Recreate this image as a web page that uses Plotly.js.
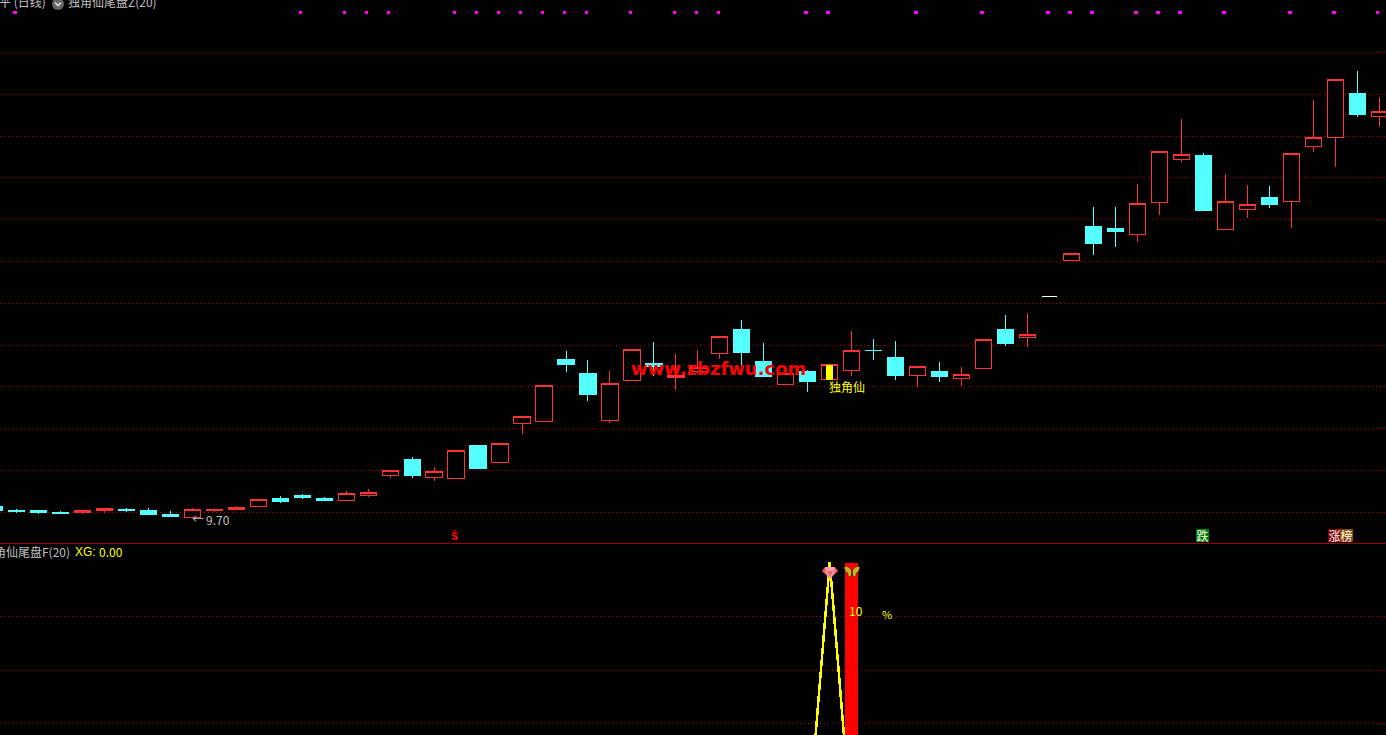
<!DOCTYPE html>
<html>
<head>
<meta charset="utf-8">
<script src="https://cdn.plot.ly/plotly-3.0.1.min.js"></script>
<style>html,body{margin:0;padding:0;background:#000;overflow:hidden}#chart{width:1386px;height:735px}.main-svg path{shape-rendering:crispEdges}</style>
</head>
<body>
<div id="chart"></div>
<script>
// Daily candles, index -1 .. 62
const dayIndex = [-1,0,1,2,3,4,5,6,7,8,9,10,11,12,13,14,15,16,17,18,19,20,21,22,23,24,25,26,27,28,29,30,31,32,33,34,35,36,37,38,39,40,41,42,43,44,45,46,47,48,49,50,51,52,53,54,55,56,57,58,59,60,61,62];
const openPx = [10.29,10.10,10.10,10.00,10.00,10.10,10.19,10.10,9.95,9.78,10.11,10.16,10.30,10.67,10.86,10.67,10.59,10.83,11.78,12.58,11.69,11.64,13.21,12.41,14.27,14.37,17.32,16.65,14.42,16.33,17.13,16.47,16.79,17.62,18.76,17.23,16.14,16.75,16.38,16.81,17.79,17.42,16.56,16.79,16.43,16.90,18.76,18.41,20.37,22.07,23.69,23.59,23.33,24.85,26.91,27.08,23.56,24.51,25.07,24.90,27.53,27.96,30.05,28.96];
const highPx = [10.29,10.19,10.12,10.10,10.14,10.22,10.24,10.24,10.10,10.24,10.19,10.33,10.66,10.81,10.91,10.77,11.05,11.15,12.04,12.68,12.20,13.00,13.21,13.34,14.63,16.11,17.75,17.32,16.79,17.83,18.18,17.61,17.80,18.46,19.24,18.13,16.84,16.84,17.08,18.71,18.33,18.23,16.99,17.23,16.99,18.31,19.47,19.57,20.37,22.43,24.64,24.64,25.74,27.31,28.85,27.23,26.22,25.69,25.65,27.21,29.76,30.75,31.15,29.91];
const lowPx = [10.10,10.00,9.95,9.95,9.95,10.00,10.05,9.95,9.81,9.76,10.05,10.16,10.30,10.48,10.67,10.57,10.59,10.77,11.69,11.67,11.55,11.64,12.11,12.41,13.78,14.37,16.75,15.36,14.31,16.33,16.56,15.89,16.65,17.37,17.08,16.51,16.14,15.79,16.38,16.56,17.32,16.36,16.03,16.27,16.08,16.90,17.99,17.94,20.37,22.07,22.35,22.73,22.97,24.26,26.81,24.45,23.56,24.13,24.59,23.64,27.27,26.56,28.95,28.47];
const closePx = [10.10,10.05,10.00,9.98,10.14,10.22,10.10,9.95,9.81,10.17,10.19,10.27,10.66,10.53,10.72,10.62,10.94,10.96,12.04,11.77,12.00,13.00,12.11,13.34,14.63,16.11,17.08,15.69,16.21,17.83,17.03,16.60,16.94,18.46,17.66,16.51,16.65,16.27,17.08,17.79,17.75,16.56,16.99,16.51,16.64,18.31,18.09,18.55,20.37,22.43,22.87,23.45,24.82,27.31,27.16,24.45,24.92,24.77,24.74,27.21,27.98,30.75,29.04,29.22];

// Flat one-price day drawn white
const flatDay = [47];
const flatPrice = [20.36];

// Signal candle fill
const signalDay = [37, 37];
const signalPrice = [16.38, 17.08];

// Top row of magenta marks
const markDays = [0,13,15,16,17,20,21,22,23,24,25,26,28,30,31,32,36,37,41,44,47,48,49,51,52,53,55,58,60,62];
const markLevel = 33.95;

// Grid levels
const priceGrid = [10.03,12.03,14.03,16.03,18.03,20.03,22.03,24.03,26.03,28.03,30.03,32.03];
const xgGrid = [0.398,0.596,0.798];

// Lower pane
const xgDays = [36, 37, 38];
const xgValues = [0, 1, 0];
const stickDay = [38];
const stickValue = [1];

const W = 1386, H = 735, PANE = 543;
const X0 = 16.5, DX = 21.98;
const xRange = [(0 - X0) / DX, (W - X0) / DX];
const px = v => v / W, py = v => 1 - v / H;

// Split regular candles from the flat white one
const keep = dayIndex.map((d, i) => i).filter(i => !flatDay.includes(dayIndex[i]));
const pick = a => keep.map(i => a[i]);

const UP = '#ff3232', DOWN = '#54ffff';
const traces = [
  {type: 'candlestick', x: pick(dayIndex), open: pick(openPx), high: pick(highPx), low: pick(lowPx), close: pick(closePx),
   xaxis: 'x', yaxis: 'y', whiskerwidth: 0,
   increasing: {line: {color: UP, width: 1}, fillcolor: '#000000'},
   decreasing: {line: {color: DOWN, width: 1}, fillcolor: DOWN}},
  {type: 'scatter', mode: 'lines', x: [flatDay[0] - 0.36, flatDay[0] + 0.36], y: [flatPrice[0], flatPrice[0]],
   xaxis: 'x', yaxis: 'y', line: {color: '#ffffff', width: 1}},
  {type: 'scatter', mode: 'lines', x: signalDay, y: signalPrice, xaxis: 'x', yaxis: 'y',
   line: {color: '#ffff00', width: 7}},
  {type: 'scatter', mode: 'markers', x: markDays.map(d => d - 0.07), y: markDays.map(() => markLevel), xaxis: 'x', yaxis: 'y',
   marker: {symbol: 'square', size: 3.5, color: '#ff00ff', line: {width: 0}}},
  {type: 'bar', x: stickDay, y: stickValue, width: 13 / DX, xaxis: 'x2', yaxis: 'y2',
   marker: {color: '#ff0000', line: {width: 0}}},
  {type: 'scatter', mode: 'lines', x: xgDays, y: xgValues, xaxis: 'x2', yaxis: 'y2',
   line: {color: '#ffff00', width: 2.5}}
];

const GRID = '#c00000', DASH = '1px,3px';
const CJK = '"Noto Sans CJK SC", "DejaVu Sans", sans-serif';
const note = (text, x, y, color, size, extra) => Object.assign({
  text, x: px(x), y: py(y), xref: 'paper', yref: 'paper', xanchor: 'left', yanchor: 'middle',
  showarrow: false, borderpad: 0, font: {family: CJK, size, color}
}, extra || {});
const tag = (text, x, bg) => note(text, x, 535.5, '#ffffff', 12, {bgcolor: bg, borderwidth: 0, width: 13, height: 13, align: 'center'});

const svgUri = s => 'data:image/svg+xml;base64,' + btoa(s);
const chevronSvg = '<svg xmlns="http://www.w3.org/2000/svg" viewBox="0 0 12 12"><circle cx="6" cy="6" r="6" fill="#666"/><path d="M3 4.5 L6 7.5 L9 4.5" fill="none" stroke="#ddd" stroke-width="1.6"/></svg>';
const gemSvg = '<svg xmlns="http://www.w3.org/2000/svg" viewBox="0 0 16 12"><path d="M3 0 H13 L16 4 L8 12 L0 4 Z" fill="#f06070"/><path d="M3 0 H13 L12 4 H4 Z" fill="#ff9aa8"/><path d="M4 4 L8 11 L12 4" fill="none" stroke="#ffc8d0" stroke-width="1"/></svg>';
const flySvg = '<svg xmlns="http://www.w3.org/2000/svg" viewBox="0 0 16 12"><path d="M8 5 C5 0 2 0 0 1 C1 5 2 7 4 7 C3 9 5 12 7 10 L8 8 Z" fill="#d8b020" stroke="#503000" stroke-width="0.8"/><path d="M8 5 C11 0 14 0 16 1 C15 5 14 7 12 7 C13 9 11 12 9 10 L8 8 Z" fill="#d8b020" stroke="#503000" stroke-width="0.8"/><path d="M8 3 V10" stroke="#402000" stroke-width="1.2"/></svg>';
const img = (src, x, y, w, h) => ({source: svgUri(src), xref: 'paper', yref: 'paper', x: px(x), y: py(y),
  sizex: w / W, sizey: h / H, xanchor: 'left', yanchor: 'top', sizing: 'stretch', layer: 'above'});

const layout = {
  width: W, height: H, margin: {l: 0, r: 0, t: 0, b: 0}, paper_bgcolor: '#000', plot_bgcolor: '#000',
  showlegend: false, boxgap: 0.26, boxgroupgap: 0, hovermode: false, bargap: 0,
  xaxis: {range: xRange, domain: [0, 1], anchor: 'y', visible: false, rangeslider: {visible: false}, fixedrange: true, type: 'linear'},
  xaxis2: {range: xRange, domain: [0, 1], anchor: 'y2', visible: false, fixedrange: true, type: 'linear'},
  yaxis: {domain: [py(PANE), 1], range: [10 - (PANE - 513) / 20.9, 32 + 53 / 20.9], tickmode: 'array', tickvals: priceGrid,
    showticklabels: false, ticks: '', zeroline: false, showline: false, showgrid: true, gridcolor: GRID, griddash: DASH, gridwidth: 1, fixedrange: true},
  yaxis2: {domain: [0, py(PANE)], range: [(830 - 735) / 267.5, (830 - PANE) / 267.5], tickmode: 'array', tickvals: xgGrid,
    showticklabels: false, ticks: '', zeroline: false, showline: false, showgrid: true, gridcolor: GRID, griddash: DASH, gridwidth: 1, fixedrange: true},
  shapes: [{type: 'line', xref: 'paper', yref: 'paper', x0: 0, x1: 1, y0: py(PANE + 0.5), y1: py(PANE + 0.5), line: {color: '#a00000', width: 1}}],
  images: [img(chevronSvg, 52, -2, 12, 12), img(gemSvg, 822, 567, 16, 12), img(flySvg, 844, 566, 16, 12)],
  annotations: [
    note('平 (日线)', -2, 2, '#c0c0c0', 12),
    note('独角仙尾盘Z(20)', 67, 2, '#c0c0c0', 12),
    note('角仙尾盘F(20)', -7, 551.5, '#c0c0c0', 12),
    note('XG:', 74, 551.5, '#ffff00', 12, {font: {family: '"Liberation Sans", sans-serif', size: 12, color: '#ffff00'}}),
    note('0.00', 98, 551.5, '#ffff00', 12),
    note('←', 191, 518, '#c0c0c0', 12),
    note('9.70', 205, 519, '#c0c0c0', 12),
    note('www.zbzfwu.com', 630, 368, '#ff0000', 18, {font: {family: '"DejaVu Sans", sans-serif', size: 18, color: '#ff0000', weight: 'bold'}}),
    note('独角仙', 828, 386.5, '#ffff00', 12),
    note('Ŝ', 450, 536, '#ff0000', 10, {font: {family: '"DejaVu Sans", sans-serif', size: 10, color: '#ff0000', weight: 'bold'}}),
    tag('跌', 1196, '#008000'),
    tag('涨', 1328, '#800000'),
    tag('榜', 1340, '#8a4a00'),
    note('10', 848, 610, '#ffff00', 12),
    note('%', 881, 614, '#ffff00', 11)
  ]
};

Plotly.newPlot('chart', traces, layout, {displayModeBar: false, staticPlot: true});
</script>
</body>
</html>
